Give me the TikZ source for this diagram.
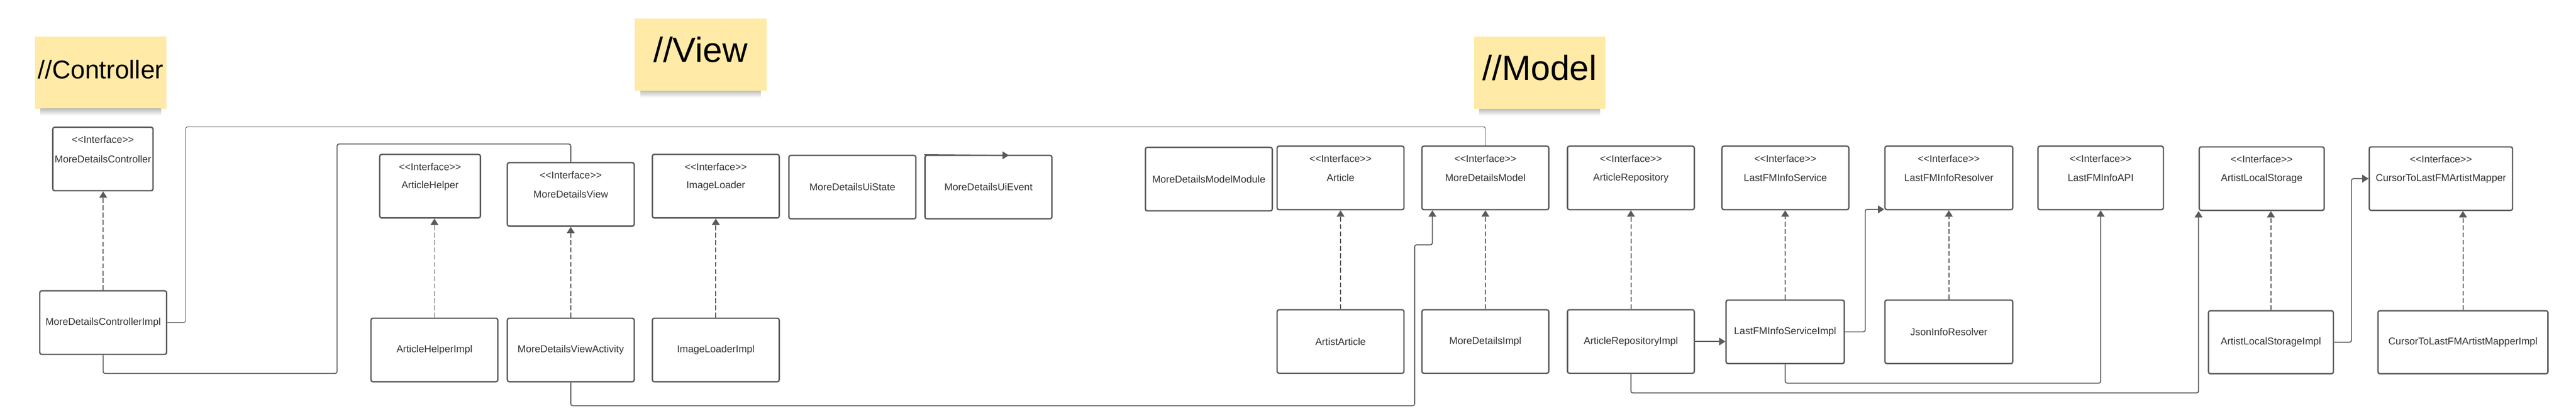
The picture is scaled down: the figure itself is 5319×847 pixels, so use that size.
\documentclass[tikz,border=0pt]{standalone}
\usepackage{fontspec}
\setmainfont{Liberation Sans}
\usetikzlibrary{arrows.meta}
\definecolor{linegray}{RGB}{90,90,90}
\definecolor{textgray}{RGB}{51,51,51}
\definecolor{notefill}{RGB}{255,234,167}
\newcommand\boxfont{\fontsize{10.3pt}{12pt}\selectfont}
\newcommand\stereo{<\kern0pt<Interface>\kern0pt>}
\begin{document}
\begin{tikzpicture}[x=0.5pt, y=-0.5pt,
  box/.style={draw=linegray, line width=1.4pt, rounded corners=2pt, minimum width=131pt, minimum height=65.5pt, inner sep=0pt, text=textgray, font=\boxfont},
  iface/.style={box, label={[anchor=center, yshift=-13.5pt, text=textgray, font=\boxfont]north:\stereo}},
  note/.style={fill=notefill, minimum width=136pt, minimum height=74.5pt, inner sep=0pt, text height=14.5pt, text depth=0pt},
  conn/.style={draw=linegray, line width=1pt, rounded corners=2pt},
  arr/.style={conn, -{Triangle[length=6.5pt, width=8pt]}},
  real/.style={arr, dash pattern=on 5pt off 2.5pt}]
\useasboundingbox (0,0) rectangle (5319,847);
\node[note, font=\fontsize{26.5pt}{30pt}\selectfont, text height=12.5pt] (N_0) at (208,149.5) {//Controller};
\shade[top color=black!25, bottom color=white] ([xshift=6pt]N_0.south west) rectangle ([xshift=-6pt, yshift=-7pt]N_0.south east);
\node[note, font=\fontsize{36pt}{40pt}\selectfont, text height=15.5pt] (N_1) at (1446.5,112.5) {//View};
\shade[top color=black!25, bottom color=white] ([xshift=6pt]N_1.south west) rectangle ([xshift=-6pt, yshift=-7pt]N_1.south east);
\node[note, font=\fontsize{36pt}{40pt}\selectfont, text height=15pt] (N_2) at (3179,150) {//Model};
\shade[top color=black!25, bottom color=white] ([xshift=6pt]N_2.south west) rectangle ([xshift=-6pt, yshift=-7pt]N_2.south east);
\node[iface, minimum width=103.5pt] (P_0_0) at (212.5,328) {MoreDetailsController};
\node[box] (P_0_1) at (213,665.5) {MoreDetailsControllerImpl};
\draw[real] (P_0_1.north) -- (P_0_1.north |- P_0_0.south);
\node[iface, minimum width=104pt] (P_1_0) at (888,384) {ArticleHelper};
\node[box] (P_1_1) at (897,722) {ArticleHelperImpl};
\draw[real, line width=0.6pt] (P_1_1.north) -- (P_1_1.north |- P_1_0.south);
\node[iface] (P_2_0) at (1178.5,401) {MoreDetailsView};
\node[box] (P_2_1) at (1178.5,722) {MoreDetailsViewActivity};
\draw[real] (P_2_1.north) -- (P_2_1.north |- P_2_0.south);
\node[iface] (P_3_0) at (1478,384) {ImageLoader};
\node[box] (P_3_1) at (1478,722) {ImageLoaderImpl};
\draw[real] (P_3_1.north) -- (P_3_1.north |- P_3_0.south);
\node[box] (P_4_0) at (1760,386) {MoreDetailsUiState};
\node[box] (P_5_0) at (2041,386) {MoreDetailsUiEvent};
\coordinate (T_5) at (2083,320.5);
\draw[arr] (P_5_0.north west) -- (T_5);
\node[box] (P_6_0) at (2496,369.5) {MoreDetailsModelModule};
\node[iface] (P_7_0) at (2768,367) {Article};
\node[box] (P_7_1) at (2768,704.5) {ArtistArticle};
\draw[real] (P_7_1.north) -- (P_7_1.north |- P_7_0.south);
\node[iface] (P_8_0) at (3067,367) {MoreDetailsModel};
\node[box] (P_8_1) at (3067,704.5) {MoreDetailsImpl};
\draw[real] (P_8_1.north) -- (P_8_1.north |- P_8_0.south);
\node[iface] (P_9_0) at (3367.5,367) {ArticleRepository};
\node[box] (P_9_1) at (3367.5,704.5) {ArticleRepositoryImpl};
\draw[real] (P_9_1.north) -- (P_9_1.north |- P_9_0.south);
\node[iface] (P_10_0) at (3686.5,367) {LastFMInfoService};
\node[box, minimum width=122pt] (P_10_1) at (3686,684.5) {LastFMInfoServiceImpl};
\draw[real] (P_10_1.north) -- (P_10_1.north |- P_10_0.south);
\node[iface, minimum width=132pt] (P_11_0) at (4024,367) {LastFMInfoResolver};
\node[box, minimum width=132pt] (P_11_1) at (4024,684.5) {JsonInfoResolver};
\draw[real] (P_11_1.north) -- (P_11_1.north |- P_11_0.south);
\node[iface, minimum width=129.5pt] (P_12_0) at (4337.5,367) {LastFMInfoAPI};
\node[iface, minimum width=129pt] (P_13_0) at (4670,368.5) {ArtistLocalStorage};
\node[box, minimum width=129pt, minimum height=65pt] (P_13_1) at (4689,706) {ArtistLocalStorageImpl};
\draw[real] (P_13_1.north) -- (P_13_1.north |- P_13_0.south);
\node[iface, minimum width=148pt] (P_14_0) at (5040,368.5) {CursorToLastFMArtistMapper};
\node[box, minimum width=175.5pt, minimum height=65pt] (P_14_1) at (5085.5,706) {CursorToLastFMArtistMapperImpl};
\draw[real] (P_14_1.north) -- (P_14_1.north |- P_14_0.south);
\draw[conn, line width=0.6pt] (P_0_1.east) -- ++(38,0) -- ++(0,-404) -| (P_8_0.north);
\draw[conn] (P_0_1.south) -- ++(0,38) -| (696,297) -| (P_2_0.north);
\draw[arr] (P_2_1.south) -- ++(0,48) -| (2921,505) -| ([xshift=11.5pt]P_8_0.south west);
\draw[arr] (P_9_1.east) -- (P_9_1.east -| P_10_1.west);
\draw[arr] (P_10_1.east) -- ++(42,0) |- ([yshift=1pt]P_11_0.south west);
\draw[arr] (P_10_1.south) -- ++(0,39) -| (P_12_0.south);
\draw[arr] (P_9_1.south) -- ++(0,39) -| (P_13_0.south west);
\draw[arr] (P_13_1.east) -- ++(36,0) |- (P_14_0.west);
\end{tikzpicture}
\end{document}
